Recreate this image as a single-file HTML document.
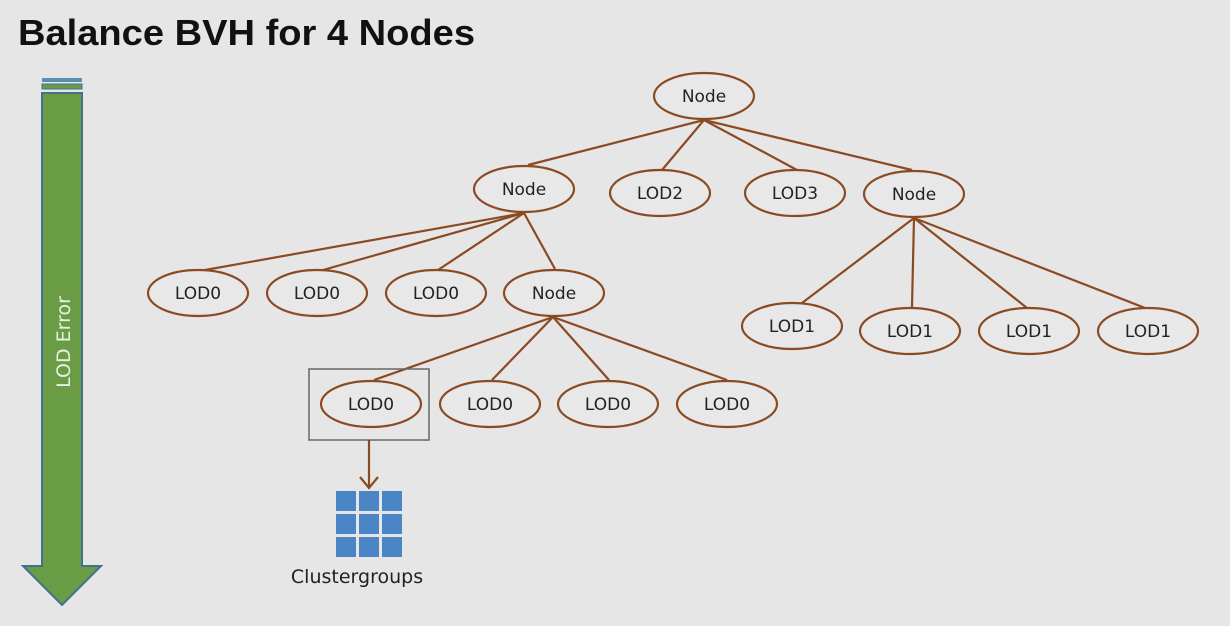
<!DOCTYPE html>
<html><head><meta charset="utf-8"><style>
html,body{margin:0;padding:0;background:#e6e6e7;}
body{width:1230px;height:621px;overflow:hidden;}
</style></head><body>
<svg width="1230" height="621" viewBox="0 0 1230 621" xmlns="http://www.w3.org/2000/svg">
<rect width="1230" height="621" fill="#e6e6e7"/>
<text x="18" y="45" font-family="Liberation Sans, sans-serif" font-weight="bold" font-size="36" fill="#111" textLength="457" lengthAdjust="spacingAndGlyphs">Balance BVH for 4 Nodes</text>
<!-- arrow -->
<rect x="42" y="78" width="40" height="4" fill="#5b8fb0"/>
<rect x="42" y="84" width="40" height="5" fill="#6b9a4a" stroke="#41718f" stroke-width="1"/>
<polygon points="42,93 82,93 82,566 101,566 62,605 23,566 42,566" fill="#6a9c45" stroke="#41718f" stroke-width="2"/>
<text transform="translate(70,342) rotate(-90)" text-anchor="middle" font-family="DejaVu Sans, sans-serif" font-size="19" fill="#e8f0e0">LOD Error</text>
<!-- edges -->
<g stroke="#8a4a22" stroke-width="2.2" fill="none">
<line x1="704" y1="120" x2="528" y2="165"/>
<line x1="704" y1="120" x2="662" y2="170"/>
<line x1="704" y1="120" x2="797" y2="170"/>
<line x1="704" y1="120" x2="912" y2="170"/>
<line x1="524" y1="213" x2="205" y2="270"/>
<line x1="524" y1="213" x2="323" y2="270"/>
<line x1="524" y1="213" x2="438" y2="270"/>
<line x1="524" y1="213" x2="555" y2="269"/>
<line x1="553" y1="317" x2="374" y2="380"/>
<line x1="553" y1="317" x2="492" y2="380"/>
<line x1="553" y1="317" x2="609" y2="380"/>
<line x1="553" y1="317" x2="727" y2="380"/>
<line x1="914" y1="218" x2="802" y2="303"/>
<line x1="914" y1="218" x2="912" y2="307"/>
<line x1="914" y1="218" x2="1027" y2="308"/>
<line x1="914" y1="218" x2="1145" y2="308"/>
</g>
<rect x="309" y="369" width="120" height="71" fill="none" stroke="#666" stroke-width="1.5"/>
<g stroke="#8a4a22" stroke-width="2.2" fill="#e8e8e9">
<ellipse cx="704" cy="96" rx="50" ry="23"/>
<ellipse cx="524" cy="189" rx="50" ry="23"/>
<ellipse cx="660" cy="193" rx="50" ry="23"/>
<ellipse cx="795" cy="193" rx="50" ry="23"/>
<ellipse cx="914" cy="194" rx="50" ry="23"/>
<ellipse cx="198" cy="293" rx="50" ry="23"/>
<ellipse cx="317" cy="293" rx="50" ry="23"/>
<ellipse cx="436" cy="293" rx="50" ry="23"/>
<ellipse cx="554" cy="293" rx="50" ry="23"/>
<ellipse cx="792" cy="326" rx="50" ry="23"/>
<ellipse cx="910" cy="331" rx="50" ry="23"/>
<ellipse cx="1029" cy="331" rx="50" ry="23"/>
<ellipse cx="1148" cy="331" rx="50" ry="23"/>
<ellipse cx="371" cy="404" rx="50" ry="23"/>
<ellipse cx="490" cy="404" rx="50" ry="23"/>
<ellipse cx="608" cy="404" rx="50" ry="23"/>
<ellipse cx="727" cy="404" rx="50" ry="23"/>
</g>
<g font-family="DejaVu Sans, sans-serif" font-size="17" fill="#222" text-anchor="middle">
<text x="704" y="102">Node</text>
<text x="524" y="195">Node</text>
<text x="660" y="199">LOD2</text>
<text x="795" y="199">LOD3</text>
<text x="914" y="200">Node</text>
<text x="198" y="299">LOD0</text>
<text x="317" y="299">LOD0</text>
<text x="436" y="299">LOD0</text>
<text x="554" y="299">Node</text>
<text x="792" y="332">LOD1</text>
<text x="910" y="337">LOD1</text>
<text x="1029" y="337">LOD1</text>
<text x="1148" y="337">LOD1</text>
<text x="371" y="410">LOD0</text>
<text x="490" y="410">LOD0</text>
<text x="608" y="410">LOD0</text>
<text x="727" y="410">LOD0</text>
</g>
<line x1="369" y1="440" x2="369" y2="488" stroke="#8a4a22" stroke-width="2.2"/>
<polyline points="360,477 369,488 378,477" fill="none" stroke="#8a4a22" stroke-width="2.2"/>
<g fill="#4a86c5">
<rect x="336" y="491" width="20" height="20"/><rect x="359" y="491" width="20" height="20"/><rect x="382" y="491" width="20" height="20"/>
<rect x="336" y="514" width="20" height="20"/><rect x="359" y="514" width="20" height="20"/><rect x="382" y="514" width="20" height="20"/>
<rect x="336" y="537" width="20" height="20"/><rect x="359" y="537" width="20" height="20"/><rect x="382" y="537" width="20" height="20"/>
</g>
<text x="357" y="583" text-anchor="middle" font-family="DejaVu Sans, sans-serif" font-size="19" fill="#222">Clustergroups</text>
</svg>
</body></html>
